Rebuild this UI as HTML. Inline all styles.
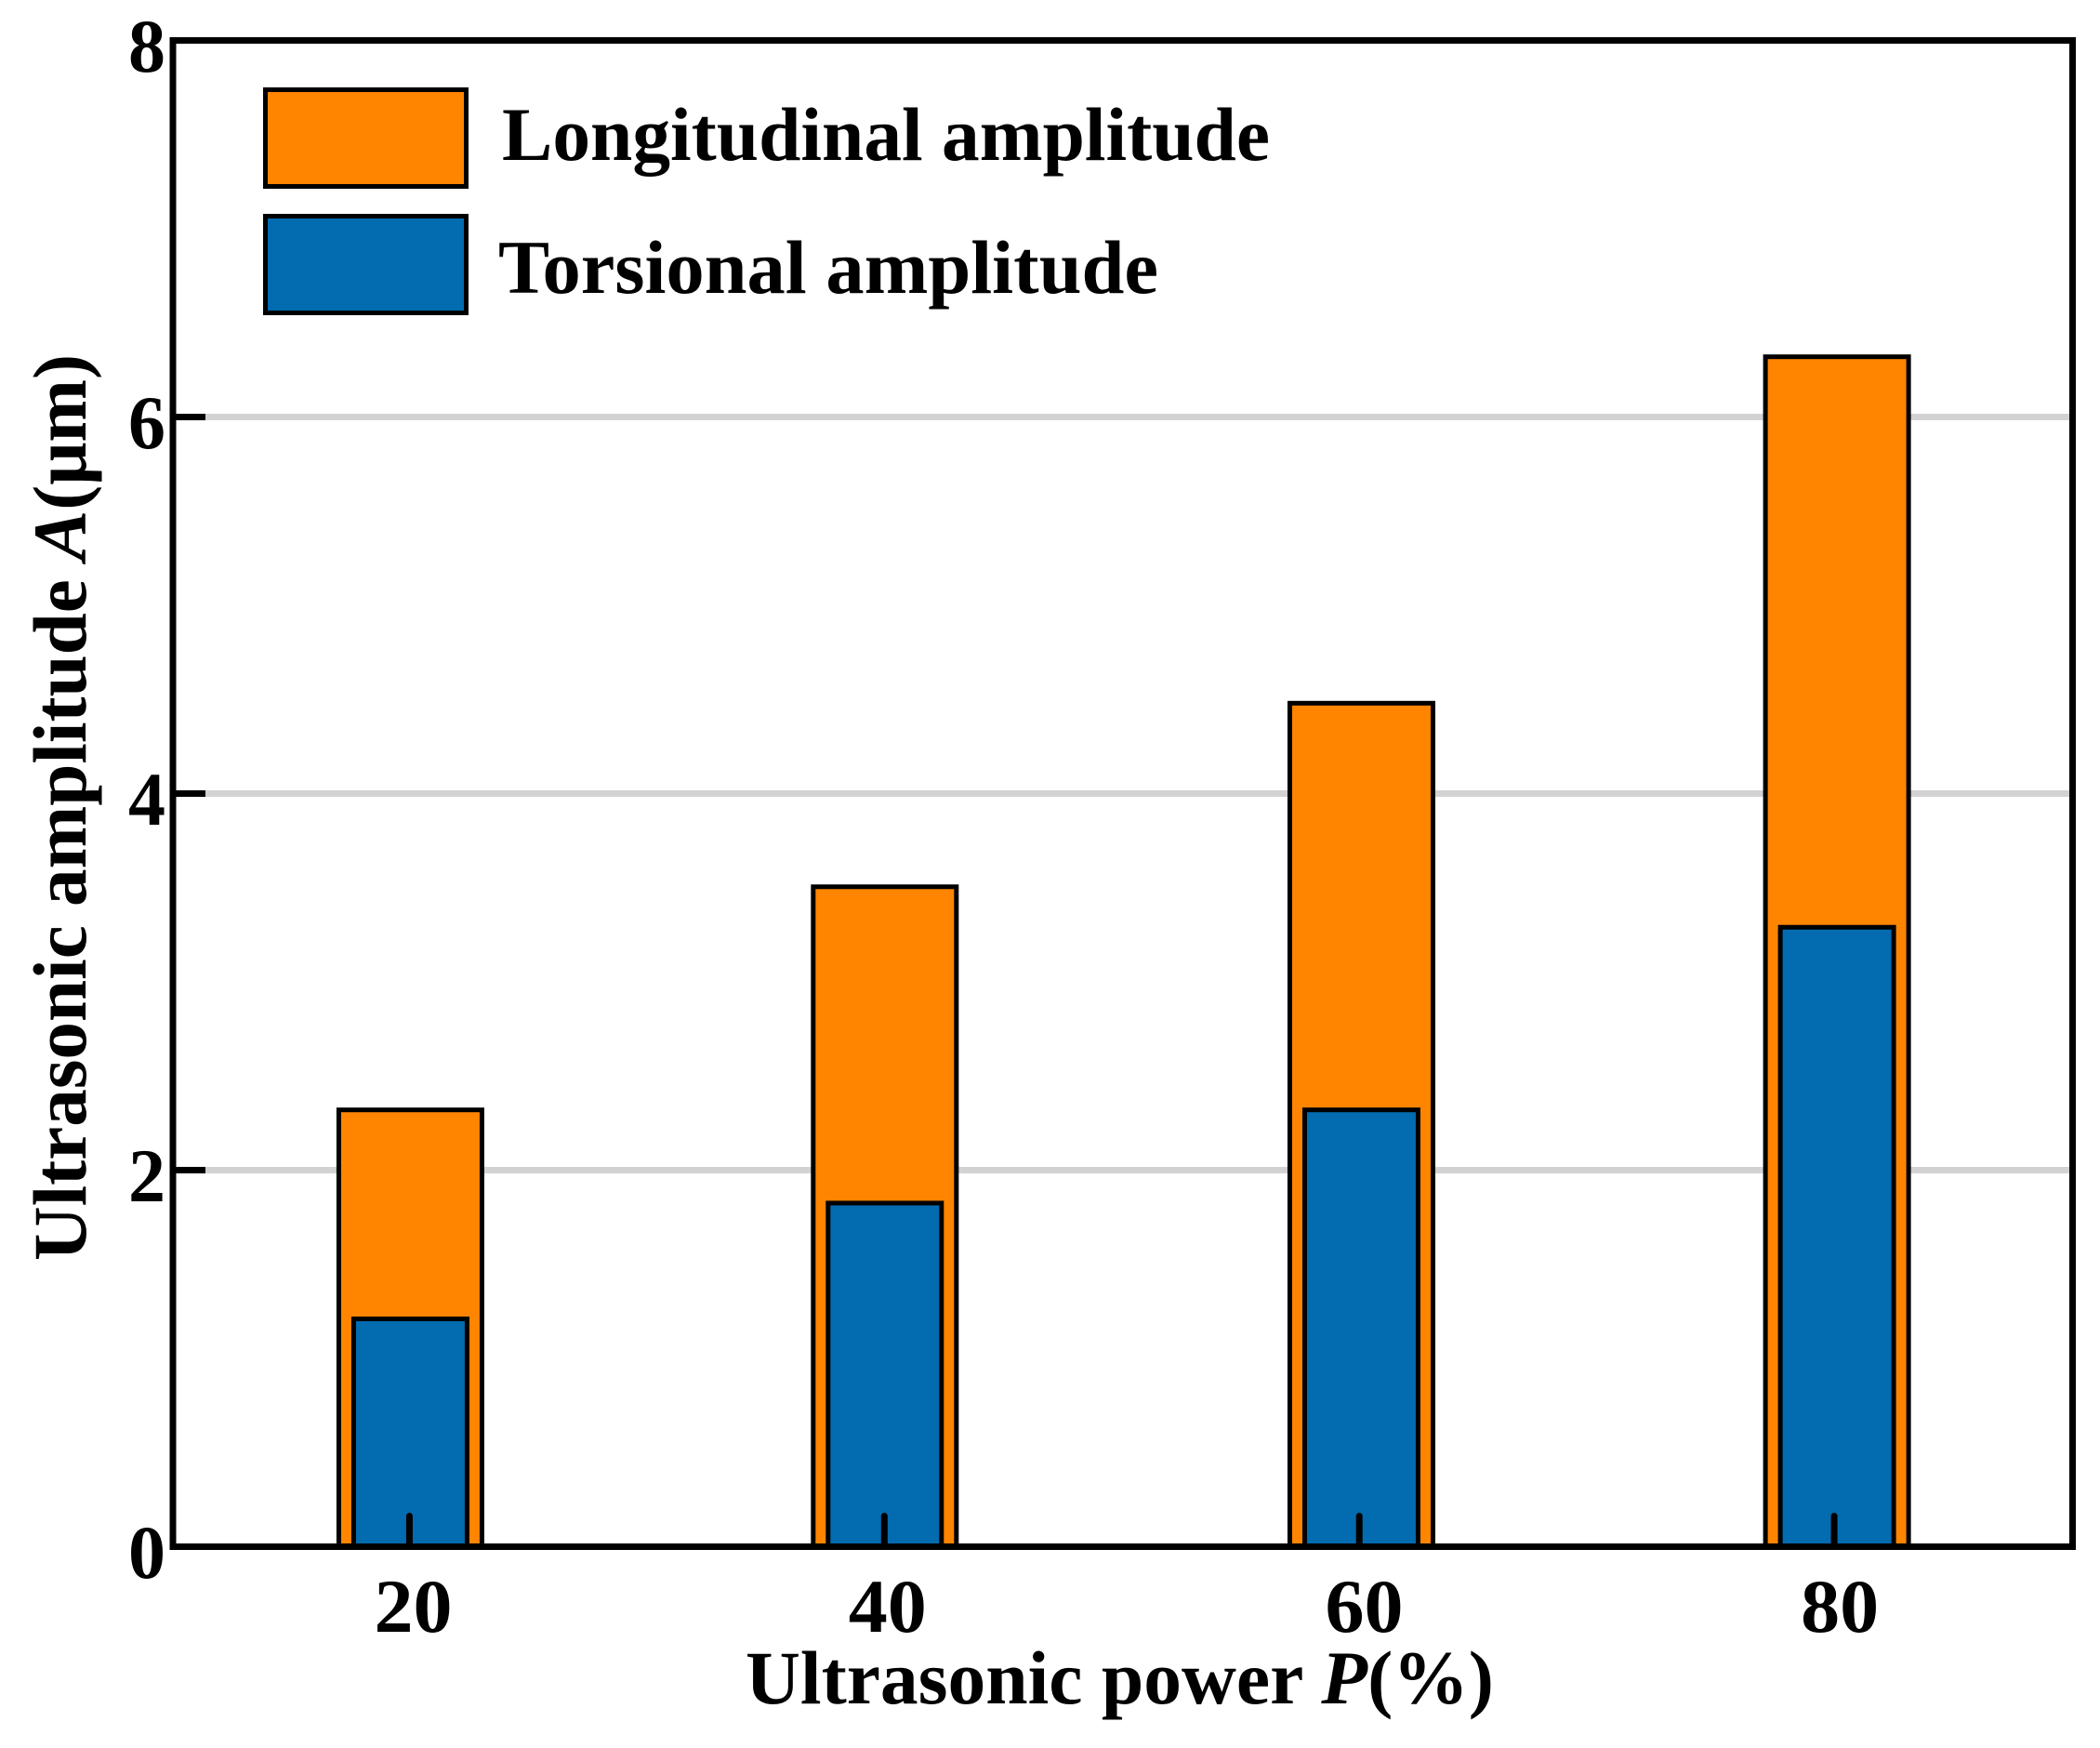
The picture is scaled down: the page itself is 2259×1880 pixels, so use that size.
<!DOCTYPE html>
<html lang="en">
<head>
<meta charset="utf-8">
<title>Ultrasonic amplitude vs power</title>
<style>
html,body{margin:0;padding:0;background:#fff;width:2259px;height:1880px;overflow:hidden}
svg{display:block}
text{font-family:"Liberation Serif",serif;font-weight:bold;fill:#000;font-size:82px}
</style>
</head>
<body>
<svg id="chart" xmlns="http://www.w3.org/2000/svg" width="2259" height="1880" viewBox="0 0 2259 1880">
  <g id="grid"></g>
  <g id="bars"></g>
  <g id="ticks"></g>
  <rect x="186" y="43.5" width="2043.5" height="1620" fill="none" stroke="#000" stroke-width="7"/>
  <g id="labels"></g>
  <text x="802" y="1832" textLength="805" lengthAdjust="spacingAndGlyphs">Ultrasonic power <tspan font-style="italic">P</tspan>(%)</text>
  <text transform="translate(92,1356) rotate(-90)" x="0" y="0" textLength="975" lengthAdjust="spacingAndGlyphs">Ultrasonic amplitude <tspan font-style="italic">A</tspan>(μm)</text>
  <g>
    <rect x="285.5" y="96.5" width="216" height="104" fill="#ff8500" stroke="#000" stroke-width="5"/>
    <text x="540" y="172" textLength="826" lengthAdjust="spacingAndGlyphs">Longitudinal amplitude</text>
    <rect x="285.5" y="232.5" width="216" height="104" fill="#036bb0" stroke="#000" stroke-width="5"/>
    <text x="536" y="315" textLength="710" lengthAdjust="spacingAndGlyphs">Torsional amplitude</text>
  </g>
</svg>
<script>
const categories = [20, 40, 60, 80];
const barCategories = [20, 39.98, 60.05, 80.08];
const longitudinalValues = [2.32, 3.505, 4.48, 6.32];
const torsionalValues = [1.21, 1.825, 2.32, 3.29];
const xTickLabels = ["20", "40", "60", "80"];
const yTicks = [0, 2, 4, 6, 8];

const NS = "http://www.w3.org/2000/svg";
const xScale = v => 186 + (v - 10) / 80 * 2043.5;
const yScale = v => 1663.5 - v / 8 * 1620;
const gridG = document.getElementById("grid");
const barsG = document.getElementById("bars");
const ticksG = document.getElementById("ticks");
const labelsG = document.getElementById("labels");

function make(parent, tag, attrs) {
  const el = document.createElementNS(NS, tag);
  for (const k in attrs) el.setAttribute(k, attrs[k]);
  parent.appendChild(el);
  return el;
}

yTicks.forEach(t => {
  const y = yScale(t);
  const lab = make(labelsG, "text", { x: 138, y: y + 33.5, textLength: 40, lengthAdjust: "spacingAndGlyphs" });
  
  
  lab.textContent = String(t);
  if (t > 0 && t < 8) {
    const g = make(gridG, "line", { x1: 186, x2: 2229.5, y1: y, y2: y, stroke: "#d2d2d2", "stroke-width": 7 });
    
    
    const tk = make(ticksG, "line", { x1: 186, x2: 221, y1: y, y2: y, stroke: "#000", "stroke-width": 7 });
    
    
  }
});

categories.forEach((c, i) => {
  const cx = xScale(barCategories[i]);
  const outerW = 154;
  const innerW = 122;
  const a = make(barsG, "rect", {
    x: cx - outerW / 2, y: yScale(longitudinalValues[i]), width: outerW,
    height: yScale(0) - yScale(longitudinalValues[i]),
    fill: "#ff8500", stroke: "#000", "stroke-width": 5
  });
  
  
  const b = make(barsG, "rect", {
    x: cx - innerW / 2, y: yScale(torsionalValues[i]), width: innerW,
    height: yScale(0) - yScale(torsionalValues[i]),
    fill: "#036bb0", stroke: "#000", "stroke-width": 5
  });
  
  
  const tk = make(ticksG, "line", {
    x1: xScale(c) - 1, x2: xScale(c) - 1, y1: yScale(0), y2: yScale(0) - 33,
    stroke: "#000", "stroke-width": 7, "stroke-linecap": "round"
  });
  
  
  const lab = make(labelsG, "text", {
    x: xScale(barCategories[i]) - 39, y: 1755, textLength: 84, lengthAdjust: "spacingAndGlyphs"
  });
  
  
  lab.textContent = xTickLabels[i];
});
</script>
</body>
</html>
